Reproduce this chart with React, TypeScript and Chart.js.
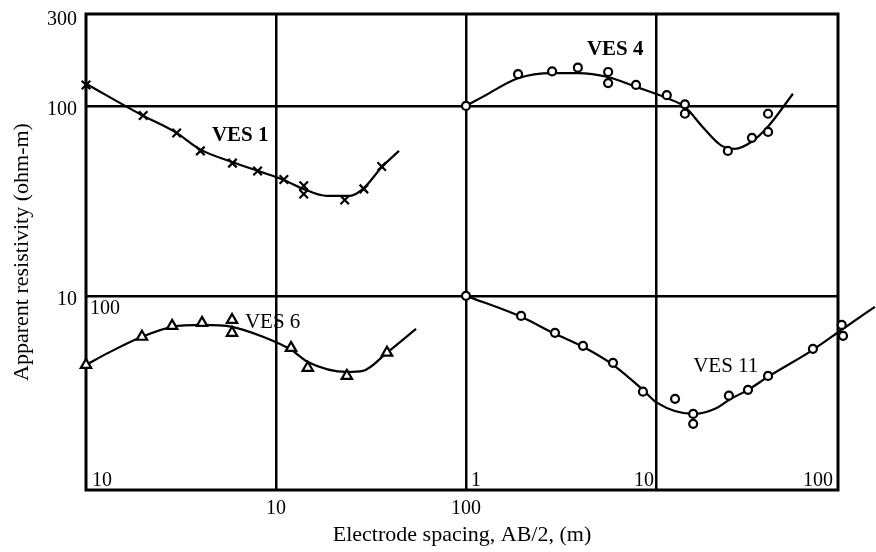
import { useEffect, useRef } from 'react';
import { Chart, registerables } from 'chart.js';

Chart.register(...registerables);

const FONT = "'Liberation Serif', 'Times New Roman', Times, serif";

// ---- axis ticks ----
const xTickValues = [10, 100, 1000];
const xTickLabels = ['10', '100', ''];
const yTickValues = [10, 100, 300];
const yTickLabels = ['10', '100', '300'];
// inner panel labels (VES 6 resistivity, VES 4/11 spacing)
const innerYLabels = ['100', '10'];
const innerXLabels = ['1', '10', '100'];

// ---- VES 1 (left spacing scale, upper resistivity scale) ----
const ves1X = [1, 2, 3, 4, 5.9, 8, 11, 14, 14, 23, 29, 36];
const ves1Y = [129, 89, 72, 58, 50, 45.5, 41, 38, 34.4, 32, 36.6, 48];
const ves1CurveX = [1, 1.95, 2.94, 4.03, 5.87, 8.04, 11, 13.9, 18.5, 24.5, 28.7, 36.1, 44.4];
const ves1CurveY = [131, 90, 73, 58.7, 50.7, 45.5, 40.8, 36.6, 33.6, 33.6, 36.6, 47.7, 58];

// ---- VES 4 (right spacing scale, upper resistivity scale) ----
const ves4X = [1, 1.88, 2.84, 3.88, 5.6, 5.6, 7.85, 11.4, 14.2, 14.2, 23.9, 32, 38.9, 38.9];
const ves4Y = [100, 147, 152, 159, 151, 132, 129, 114, 102, 91, 58, 68, 73, 91];
const ves4CurveX = [1, 1.23, 1.88, 2.84, 3.88, 5.59, 7.85, 11.4, 14.2, 17.7, 22, 26, 32, 38.9, 52.6];
const ves4CurveY = [100, 112, 140, 149, 149, 142, 126, 110, 99, 77, 62, 59.5, 65, 78, 116];

// ---- VES 6 (left spacing scale, lower resistivity scale) ----
const ves6X = [1, 1.97, 2.84, 4.08, 5.87, 5.87, 12, 14.7, 23.6, 38.4];
const ves6Y = [43.3, 60.9, 69.5, 72.1, 74.7, 63.9, 53.2, 41.8, 37.9, 50.2];
const ves6CurveX = [1, 1.34, 1.97, 2.84, 4.08, 5.87, 8.54, 12, 14.7, 23.6, 28.7, 38.4, 54.6];
const ves6CurveY = [43.3, 50.7, 60.9, 68.7, 70.3, 68.7, 60.9, 52, 44.9, 39.8, 40.3, 50.2, 67];

// ---- VES 11 (right spacing scale, lower resistivity scale) ----
const ves11X = [1, 1.95, 2.94, 4.13, 5.94, 8.54, 12.6, 15.7, 15.7, 24.2, 30.5, 38.9, 67, 95, 96.5, 142];
const ves11Y = [100, 78.4, 63.9, 54.6, 44.4, 31.3, 28.7, 23.9, 21.2, 29.8, 32, 37.9, 52.6, 70.3, 61.6, 87.6];
const ves11CurveX = [1, 1.95, 2.94, 4.13, 5.94, 8.54, 10.1, 15.7, 20.9, 24.2, 30.5, 38.9, 67, 95, 142];
const ves11CurveY = [100, 77.6, 63.1, 53.9, 43.3, 32, 27.4, 23.9, 25.7, 28.3, 32, 37.5, 52, 66.3, 87.6];

const seriesNames = ['VES 1', 'VES 4', 'VES 6', 'VES 11'];

function pts(xs: number[], ys: number[]) {
  return xs.map((x, i) => ({ x, y: ys[i] }));
}

function curve(label: string, xs: number[], ys: number[], xAxisID: string, yAxisID: string) {
  return {
    label,
    data: pts(xs, ys),
    xAxisID,
    yAxisID,
    showLine: true,
    cubicInterpolationMode: 'monotone',
    borderColor: '#000',
    borderWidth: 2.2,
    pointRadius: 0,
    fill: false,
    clip: false,
    order: 2,
  };
}

function marks(label: string, xs: number[], ys: number[], xAxisID: string, yAxisID: string, style: string, radius: number, width: number) {
  return {
    label,
    data: pts(xs, ys),
    xAxisID,
    yAxisID,
    showLine: false,
    pointStyle: style,
    pointRadius: radius,
    pointBorderWidth: width,
    pointBorderColor: '#000',
    pointBackgroundColor: '#fff',
    clip: false,
    order: 1,
  };
}

const annotate = {
  id: 'vesAnnotate',
  beforeDatasetsDraw(chart: any) {
    const { ctx, chartArea: a } = chart;
    ctx.save();
    ctx.strokeStyle = '#000';
    ctx.lineWidth = 3;
    ctx.strokeRect(a.left, a.top, a.right - a.left, a.bottom - a.top);
    ctx.restore();
  },
  afterDatasetsDraw(chart: any) {
    const { ctx, chartArea: a, scales } = chart;
    const xR = scales.xR;
    const yL = scales.yL;
    ctx.save();
    ctx.fillStyle = '#000';
    ctx.textBaseline = 'alphabetic';
    ctx.font = `20px ${FONT}`;
    // lower-left panel resistivity labels
    ctx.textAlign = 'left';
    ctx.fillText(innerYLabels[0], a.left + 4, yL.getPixelForValue(100) + 18);
    ctx.fillText(innerYLabels[1], a.left + 6, a.bottom - 4);
    // right panels spacing labels
    ctx.fillText(innerXLabels[0], xR.getPixelForValue(1) + 5, a.bottom - 4);
    ctx.textAlign = 'right';
    ctx.fillText(innerXLabels[1], xR.getPixelForValue(10) - 2, a.bottom - 4);
    ctx.fillText(innerXLabels[2], a.right - 5, a.bottom - 4);

    // series labels
    ctx.textAlign = 'left';
    ctx.textBaseline = 'middle';
    const sx = scales.x;
    const sy = scales.y;
    ctx.font = `bold 21px ${FONT}`;
    ctx.fillText(seriesNames[0], sx.getPixelForValue(4.6), sy.getPixelForValue(69.5));
    ctx.fillText(seriesNames[1], xR.getPixelForValue(4.33), sy.getPixelForValue(197));
    ctx.font = `21px ${FONT}`;
    ctx.fillText(seriesNames[2], sx.getPixelForValue(6.86), yL.getPixelForValue(72.1));
    ctx.fillText(seriesNames[3], xR.getPixelForValue(15.7), yL.getPixelForValue(42.3));
    ctx.restore();
  },
};

export default function App() {
  const ref = useRef<HTMLCanvasElement>(null);

  useEffect(() => {
    document.body.style.margin = '0';
    const canvas = ref.current;
    if (!canvas) return;
    const chart = new Chart(canvas, {
      type: 'scatter',
      data: {
        datasets: [
          marks('VES 1 data', ves1X, ves1Y, 'x', 'y', 'crossRot', 6, 2.2),
          marks('VES 4 data', ves4X, ves4Y, 'xR', 'y', 'circle', 4, 2.2),
          marks('VES 6 data', ves6X, ves6Y, 'x', 'yL', 'triangle', 6, 2.2),
          marks('VES 11 data', ves11X, ves11Y, 'xR', 'yL', 'circle', 4, 2.2),
          curve('VES 1', ves1CurveX, ves1CurveY, 'x', 'y'),
          curve('VES 4', ves4CurveX, ves4CurveY, 'xR', 'y'),
          curve('VES 6', ves6CurveX, ves6CurveY, 'x', 'yL'),
          curve('VES 11', ves11CurveX, ves11CurveY, 'xR', 'yL'),
        ] as any,
      },
      options: {
        responsive: false,
        animation: false,
        devicePixelRatio: 1,
        layout: { padding: { left: 0, right: 38, top: 14, bottom: 0 } },
        plugins: {
          legend: { display: false },
          tooltip: { enabled: false },
        },
        scales: {
          x: {
            type: 'logarithmic',
            axis: 'x',
            position: 'bottom',
            min: 1,
            max: 9080,
            afterBuildTicks: (s: any) => {
              s.ticks = xTickValues.map((v) => ({ value: v }));
            },
            afterFit: (s: any) => {
              s.height = 62;
              s.paddingLeft = 0;
              s.paddingRight = 0;
            },
            ticks: {
              autoSkip: false,
              maxRotation: 0,
              padding: 7,
              color: '#000',
              font: { family: FONT, size: 20 },
              callback: (_v: any, i: number) => xTickLabels[i],
            },
            grid: { color: '#000', lineWidth: 2.5, drawTicks: false },
            border: { display: false },
            title: {
              display: true,
              text: 'Electrode spacing, AB/2, (m)',
              color: '#000',
              font: { family: FONT, size: 22 },
              padding: { top: 0, bottom: 4 },
            },
          },
          xR: {
            // right-hand panels (VES 4, VES 11); bounds set after ticks so the
            // curve may run past the frame as in the original figure
            type: 'logarithmic',
            axis: 'x',
            position: 'bottom',
            display: false,
            afterBuildTicks: (s: any) => {
              s.min = 0.01;
              s.max = 90.8;
            },
          },
          y: {
            type: 'logarithmic',
            axis: 'y',
            position: 'left',
            min: 0.95,
            max: 305,
            afterBuildTicks: (s: any) => {
              s.ticks = yTickValues.map((v) => ({ value: v }));
            },
            afterFit: (s: any) => {
              s.width = 86;
              s.paddingTop = 0;
              s.paddingBottom = 0;
            },
            ticks: {
              autoSkip: false,
              padding: 9,
              labelOffset: 4,
              color: '#000',
              font: { family: FONT, size: 20 },
              callback: (_v: any, i: number) => yTickLabels[i],
            },
            grid: {
              color: (c: any) => (c.tick && c.tick.value === 300 ? 'rgba(0,0,0,0)' : '#000'),
              lineWidth: 2.5,
              drawTicks: false,
            },
            border: { display: false },
            title: {
              display: true,
              text: 'Apparent resistivity (ohm-m)',
              color: '#000',
              font: { family: FONT, size: 22 },
              padding: { top: 9, bottom: 0 },
            },
          },
          yL: {
            type: 'logarithmic',
            axis: 'y',
            position: 'left',
            display: false,
            min: 9.5,
            max: 3050,
          },
        },
      } as any,
      plugins: [annotate],
    });
    return () => chart.destroy();
  }, []);

  return (
    <div style={{ width: 876, height: 552, overflow: 'hidden' }}>
      <canvas ref={ref} width={876} height={552} style={{ display: 'block' }} />
    </div>
  );
}
